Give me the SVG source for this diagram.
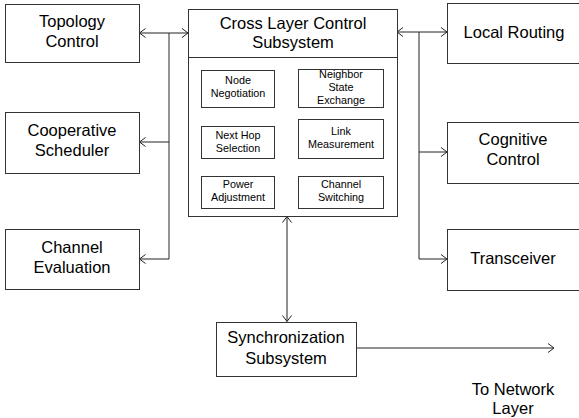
<svg xmlns="http://www.w3.org/2000/svg" width="579" height="418" viewBox="0 0 579 418">
  <style>
    .box { fill: #ffffff; stroke: #333333; stroke-width: 1; }
    .lbl { font-family: "Liberation Sans", Arial, sans-serif; font-size: 16.5px; fill: #000000; text-anchor: middle; }
    .sm { font-family: "Liberation Sans", Arial, sans-serif; font-size: 10.8px; fill: #000000; text-anchor: middle; }
    .wire { fill: none; stroke: #222222; stroke-width: 1; }
    .bus { fill: none; stroke: #7a7a7a; stroke-width: 1.6; }
  </style>
  <defs>
    <marker id="arr" viewBox="0 0 10 10" refX="9" refY="5" markerWidth="10" markerHeight="10" markerUnits="userSpaceOnUse" orient="auto-start-reverse">
      <path d="M3,0.5 L9,5 L3,9.5" fill="none" stroke="#222222" stroke-width="1"/>
    </marker>
  </defs>
  <rect width="579" height="418" fill="#ffffff"/>

  <!-- connectors -->
  <g id="connectors">
    <!-- left bus -->
    <line class="bus" x1="169" y1="33" x2="169" y2="259"/>
    <line class="wire" x1="139.5" y1="33" x2="188" y2="33" marker-start="url(#arr)" marker-end="url(#arr)"/>
    <line class="wire" x1="169" y1="142" x2="139.5" y2="142" marker-end="url(#arr)"/>
    <line class="wire" x1="169" y1="259" x2="139.5" y2="259" marker-end="url(#arr)"/>
    <!-- right bus -->
    <line class="wire" x1="419" y1="32" x2="419" y2="259"/>
    <line class="wire" x1="397" y1="32" x2="447" y2="32" marker-start="url(#arr)" marker-end="url(#arr)"/>
    <line class="wire" x1="419" y1="152" x2="447" y2="152" marker-end="url(#arr)"/>
    <line class="wire" x1="419" y1="259" x2="447" y2="259" marker-end="url(#arr)"/>
    <!-- down to synchronization -->
    <line class="wire" x1="287" y1="216.5" x2="287" y2="321.5" marker-start="url(#arr)" marker-end="url(#arr)"/>
    <!-- out to network layer -->
    <line class="wire" x1="356" y1="348" x2="554" y2="348" marker-end="url(#arr)"/>
  </g>

  <g id="topology-control">
    <rect class="box" x="5.5" y="4.5" width="134" height="58"/>
    <text class="lbl" x="72" y="27">Topology</text>
    <text class="lbl" x="72" y="47">Control</text>
  </g>
  <g id="cooperative-scheduler">
    <rect class="box" x="5.5" y="112.5" width="134" height="61"/>
    <text class="lbl" x="72" y="136">Cooperative</text>
    <text class="lbl" x="72" y="156">Scheduler</text>
  </g>
  <g id="channel-evaluation">
    <rect class="box" x="5.5" y="229.5" width="134" height="60"/>
    <text class="lbl" x="72" y="253">Channel</text>
    <text class="lbl" x="72" y="273">Evaluation</text>
  </g>

  <g id="cross-layer-control">
    <rect class="box" x="188.5" y="9.5" width="209" height="207"/>
    <line class="box" x1="188.5" y1="57.5" x2="397.5" y2="57.5"/>
    <text class="lbl" x="293" y="29">Cross Layer Control</text>
    <text class="lbl" x="293" y="48">Subsystem</text>
  </g>
  <g id="node-negotiation">
    <rect class="box" x="201.5" y="70.5" width="73" height="37"/>
    <text class="sm" x="238" y="84">Node</text>
    <text class="sm" x="238" y="97">Negotiation</text>
  </g>
  <g id="neighbor-state-exchange">
    <rect class="box" x="298.5" y="69.5" width="85" height="38"/>
    <text class="sm" x="341" y="78">Neighbor</text>
    <text class="sm" x="341" y="91">State</text>
    <text class="sm" x="341" y="104">Exchange</text>
  </g>
  <g id="next-hop-selection">
    <rect class="box" x="201.5" y="126.5" width="73" height="32"/>
    <text class="sm" x="238" y="139">Next Hop</text>
    <text class="sm" x="238" y="152">Selection</text>
  </g>
  <g id="link-measurement">
    <rect class="box" x="298.5" y="119.5" width="85" height="39"/>
    <text class="sm" x="341" y="135">Link</text>
    <text class="sm" x="341" y="148">Measurement</text>
  </g>
  <g id="power-adjustment">
    <rect class="box" x="201.5" y="176.5" width="73" height="32"/>
    <text class="sm" x="238" y="188">Power</text>
    <text class="sm" x="238" y="201">Adjustment</text>
  </g>
  <g id="channel-switching">
    <rect class="box" x="298.5" y="176.5" width="85" height="32"/>
    <text class="sm" x="341" y="188">Channel</text>
    <text class="sm" x="341" y="201">Switching</text>
  </g>

  <g id="local-routing">
    <rect class="box" x="447.5" y="3.5" width="140" height="60"/>
    <text class="lbl" x="514" y="38">Local Routing</text>
  </g>
  <g id="cognitive-control">
    <rect class="box" x="447.5" y="122.5" width="140" height="61"/>
    <text class="lbl" x="513" y="145">Cognitive</text>
    <text class="lbl" x="513" y="165">Control</text>
  </g>
  <g id="transceiver">
    <rect class="box" x="447.5" y="229.5" width="140" height="61"/>
    <text class="lbl" x="513" y="264">Transceiver</text>
  </g>

  <g id="synchronization-subsystem">
    <rect class="box" x="216.5" y="322.5" width="140" height="54"/>
    <text class="lbl" x="286" y="343">Synchronization</text>
    <text class="lbl" x="286" y="364">Subsystem</text>
  </g>

  <g id="to-network-layer">
    <text class="lbl" x="513" y="395">To Network</text>
    <text class="lbl" x="513" y="414">Layer</text>
  </g>
</svg>
